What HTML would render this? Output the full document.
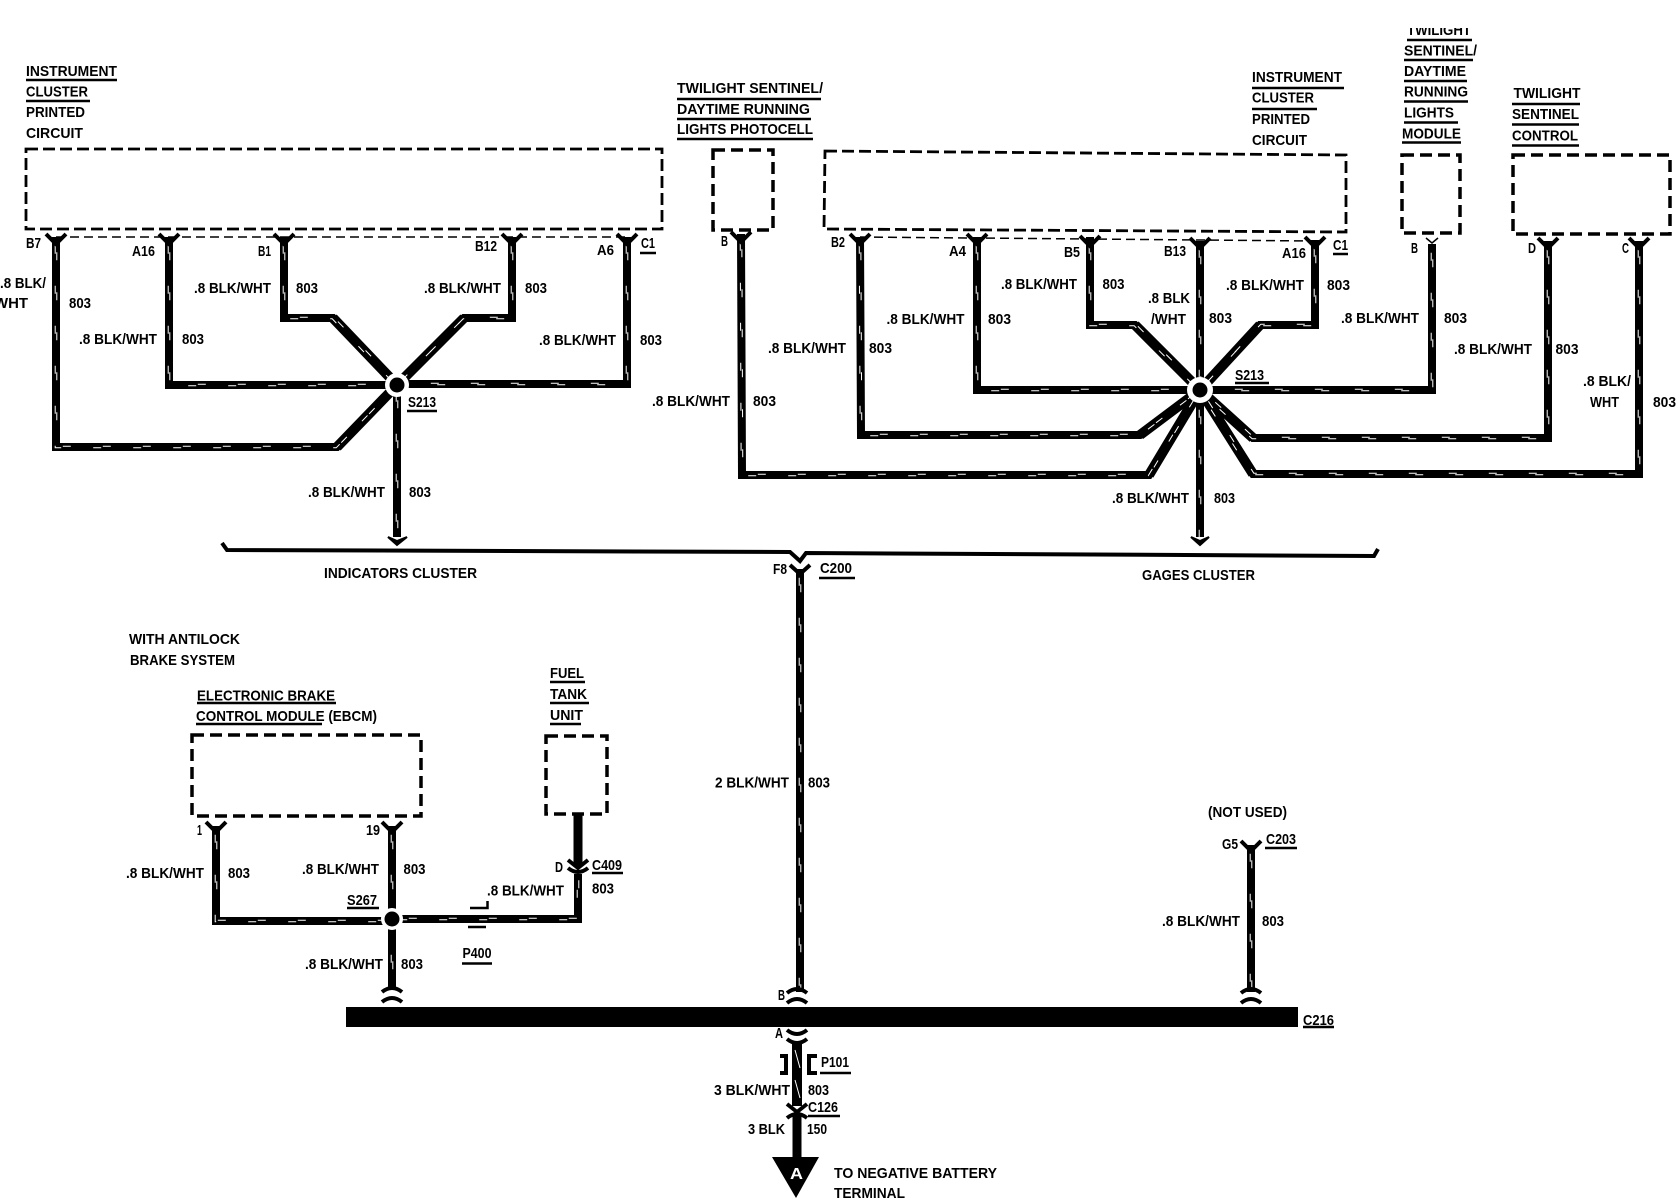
<!DOCTYPE html>
<html><head><meta charset="utf-8"><title>Wiring diagram</title>
<style>
html,body{margin:0;padding:0;background:#fff;width:1676px;height:1200px;overflow:hidden}
svg{display:block}
text{font-family:"Liberation Sans",sans-serif;font-weight:bold;font-size:15px;fill:#000}
</style></head><body>
<svg width="1676" height="1200" viewBox="0 0 1676 1200" xmlns="http://www.w3.org/2000/svg">
<!-- dashed boxes -->
<g fill="none" stroke="#000" stroke-width="2.8" stroke-dasharray="12 5">
<rect x="26" y="149" width="636" height="80"/>
<path d="M825 151L1346 155V232L824 229Z"/>
</g>
<g fill="none" stroke="#000" stroke-width="3.5" stroke-dasharray="12 6">
<rect x="713" y="150" width="60" height="80"/>
<rect x="1402" y="155" width="58" height="78"/>
<rect x="1513" y="155" width="157" height="79"/>
<rect x="192" y="735" width="229" height="81"/>
<rect x="546" y="736" width="61" height="78"/>
</g>
<g fill="none" stroke="#000" stroke-width="1.5" stroke-dasharray="9 5">
<path d="M56 237H627"/><path d="M860 237L1315 241"/>
</g>
<!-- bus -->
<path d="M222 543L227 550L790 552L800 561L806 553L1374 556L1378 549" fill="none" stroke="#000" stroke-width="4"/>
<!-- wires -->
<g fill="none" stroke="#000" stroke-width="8" stroke-linejoin="miter">
<g id="wires">
<path d="M56 237V447H337L397 385"/>
<path d="M169 237V385H397"/>
<path d="M284 237V318H333L397 385"/>
<path d="M512 237V318H464L397 385"/>
<path d="M627 237V384H397"/>
<path d="M397 385V537"/>
<path d="M741 234L742 475H1149L1200 390"/>
<path d="M860 237L861 435H1140L1200 390"/>
<path d="M977 237V390H1200"/>
<path d="M1090 237V325H1135L1200 390"/>
<path d="M1200 241V537"/>
<path d="M1315 240V325H1260L1200 390"/>
<path d="M1432 244V390H1200"/>
<path d="M1548 241V438H1253L1200 390"/>
<path d="M1639 241V474H1253L1200 390"/>
<path d="M800 569V992"/>
<path d="M216 826V921H392"/>
<path d="M392 826V990"/>
<path d="M392 919H578V874"/>
<path d="M1251 845V992"/>
</g>
</g>
<!-- thicker diagonals near the hubs -->
<g fill="none" stroke="#000" stroke-width="10">
<path d="M337 447L397 385M333 318L397 385M464 318L397 385"/>
<path d="M1149 475L1200 390M1140 435L1200 390M1135 325L1200 390M1260 325L1200 390M1253 438L1200 390M1253 474L1200 390"/>
</g>
<use href="#wires" fill="none" stroke="#fff" stroke-width="1" stroke-dasharray="8 32" stroke-dashoffset="-8" transform="translate(-0.8,0.8)"/>
<use href="#wires" fill="none" stroke="#fff" stroke-width="1" stroke-dasharray="8 32" stroke-dashoffset="-16" transform="translate(0.8,-0.8)"/>
<!-- solid / heavy wires -->
<path d="M578 814V866M797 1115V1160" fill="none" stroke="#000" stroke-width="9"/>
<path d="M797 1042V1106" fill="none" stroke="#000" stroke-width="10"/>
<path d="M795 1050L800 1068M795 1080L800 1098" fill="none" stroke="#fff" stroke-width="1"/>
<!-- Hubs -->
<circle cx="397" cy="385" r="12" fill="#fff"/><circle cx="397" cy="385" r="7.5"/>
<circle cx="1200" cy="390" r="13" fill="#fff"/><circle cx="1200" cy="390" r="7.5"/>
<circle cx="392" cy="919" r="11" fill="#fff"/><circle cx="392" cy="919" r="7.5"/>
<!-- Y pins -->
<g fill="none" stroke="#000" stroke-width="4">
<path d="M46 234L56 244L66 234M159 234L169 244L179 234M274 234L284 244L294 234M502 234L512 244L522 234M617 234L627 244L637 234"/>
<path d="M731 232L741 242L751 232M850 234L860 244L870 234M967 234L977 244L987 234M1080 236L1090 246L1100 236M1190 238L1200 248L1210 238M1305 237L1315 247L1325 237M1538 238L1548 248L1558 238M1629 238L1639 248L1649 238"/>
<path d="M790 565L800 574L810 565M206 822L216 832L226 822M382 822L392 832L402 822M1241 841L1251 851L1261 841"/>
<!-- double arcs -->
<path d="M382 992Q392 984 402 992M382 1002Q392 994 402 1002"/>
<path d="M787 993Q797 985 807 993M787 1003Q797 995 807 1003"/>
<path d="M1241 993Q1251 985 1261 993M1241 1003Q1251 995 1261 1003"/>
<path d="M787 1030Q797 1038 807 1030M787 1039Q797 1047 807 1039"/>
<path d="M787 1104L797 1112L807 1104M787 1118Q797 1110 807 1118"/>
<path d="M568 860L578 868L588 860M568 868Q578 876 588 868"/>
<!-- P101 brackets -->
<path d="M780 1056H786V1073H780M817 1056H809V1073H817"/>
</g>
<path d="M1426 238L1432 243L1438 238" fill="none" stroke="#000" stroke-width="1.5"/>
<!-- arrowheads -->
<path d="M388 537L397 545L407 537L397 541Z M1191 537L1200 545L1209 537L1200 541Z" stroke="#000" stroke-width="2"/>
<!-- main bar -->
<path d="M346 1007H1298V1027H346Z"/>
<!-- terminal -->
<path d="M772 1157H819L796 1198Z"/>
<text x="790" y="1179" textLength="13" lengthAdjust="spacingAndGlyphs" style="fill:#fff;font-size:16px">A</text>
<!-- P400 -->
<path d="M470 908H487.500V901M468 927H486" fill="none" stroke="#000" stroke-width="2.5"/>
<!-- underlines -->
<path fill="none" stroke="#000" stroke-width="2.5" d="M26 80H117M26 101H90M640 253H656M407 411H437M677 99H821M677 119H811M677 139H813M1333 254H1348M1252 88H1344M1252 109H1317M1407 40H1472M1404 60H1473M1404 81H1467M1404 101.500H1468M1404 122.500H1458M1402 142.500H1461M1512 104H1580M1512 124.500H1579M1512 145.500H1579M1235 383H1269M819 578H855M197 703H336M196 724H322M550 682H585M550 703H589M550 724H581M347 908H379M592 873H623M462 963.500H492M1265 848H1297M1303 1027H1334M820 1073H851M808 1116H840"/>
<!-- labels -->
<g>
<text x="26" y="76" textLength="91" lengthAdjust="spacingAndGlyphs">INSTRUMENT</text>
<text x="26" y="96.500" textLength="62" lengthAdjust="spacingAndGlyphs">CLUSTER</text>
<text x="26" y="117" textLength="59" lengthAdjust="spacingAndGlyphs">PRINTED</text>
<text x="26" y="138" textLength="57" lengthAdjust="spacingAndGlyphs">CIRCUIT</text>
<text x="26" y="248" textLength="15" lengthAdjust="spacingAndGlyphs">B7</text>
<text x="132" y="256" textLength="23" lengthAdjust="spacingAndGlyphs">A16</text>
<text x="258" y="256" textLength="13" lengthAdjust="spacingAndGlyphs">B1</text>
<text x="475" y="251" textLength="22" lengthAdjust="spacingAndGlyphs">B12</text>
<text x="597" y="255" textLength="17" lengthAdjust="spacingAndGlyphs">A6</text>
<text x="641" y="248" textLength="14" lengthAdjust="spacingAndGlyphs">C1</text>
<text x="0" y="288" textLength="46" lengthAdjust="spacingAndGlyphs">.8 BLK/</text>
<text x="-6" y="308" textLength="34" lengthAdjust="spacingAndGlyphs">WHT</text>
<text x="69" y="308" textLength="22" lengthAdjust="spacingAndGlyphs">803</text>
<text x="79" y="344" textLength="78" lengthAdjust="spacingAndGlyphs">.8 BLK/WHT</text>
<text x="182" y="344" textLength="22" lengthAdjust="spacingAndGlyphs">803</text>
<text x="194" y="293" textLength="77" lengthAdjust="spacingAndGlyphs">.8 BLK/WHT</text>
<text x="296" y="293" textLength="22" lengthAdjust="spacingAndGlyphs">803</text>
<text x="424" y="293" textLength="77" lengthAdjust="spacingAndGlyphs">.8 BLK/WHT</text>
<text x="525" y="293" textLength="22" lengthAdjust="spacingAndGlyphs">803</text>
<text x="539" y="345" textLength="77" lengthAdjust="spacingAndGlyphs">.8 BLK/WHT</text>
<text x="640" y="345" textLength="22" lengthAdjust="spacingAndGlyphs">803</text>
<text x="408" y="407" textLength="28" lengthAdjust="spacingAndGlyphs">S213</text>
<text x="308" y="497" textLength="77" lengthAdjust="spacingAndGlyphs">.8 BLK/WHT</text>
<text x="409" y="497" textLength="22" lengthAdjust="spacingAndGlyphs">803</text>
<text x="324" y="578" textLength="153" lengthAdjust="spacingAndGlyphs">INDICATORS CLUSTER</text>
<text x="677" y="93" textLength="146" lengthAdjust="spacingAndGlyphs">TWILIGHT SENTINEL/</text>
<text x="677" y="114" textLength="133" lengthAdjust="spacingAndGlyphs">DAYTIME RUNNING</text>
<text x="677" y="134" textLength="136" lengthAdjust="spacingAndGlyphs">LIGHTS PHOTOCELL</text>
<text x="721" y="246" textLength="7" lengthAdjust="spacingAndGlyphs">B</text>
<text x="831" y="247" textLength="14" lengthAdjust="spacingAndGlyphs">B2</text>
<text x="949" y="256" textLength="17" lengthAdjust="spacingAndGlyphs">A4</text>
<text x="1064" y="257" textLength="16" lengthAdjust="spacingAndGlyphs">B5</text>
<text x="1164" y="256" textLength="22" lengthAdjust="spacingAndGlyphs">B13</text>
<text x="1282" y="258" textLength="24" lengthAdjust="spacingAndGlyphs">A16</text>
<text x="1333" y="250" textLength="15" lengthAdjust="spacingAndGlyphs">C1</text>
<text x="1411" y="253" textLength="7" lengthAdjust="spacingAndGlyphs">B</text>
<text x="1528" y="253" textLength="8" lengthAdjust="spacingAndGlyphs">D</text>
<text x="1622" y="253" textLength="7" lengthAdjust="spacingAndGlyphs">C</text>
<text x="1252" y="82" textLength="90" lengthAdjust="spacingAndGlyphs">INSTRUMENT</text>
<text x="1252" y="102.500" textLength="62" lengthAdjust="spacingAndGlyphs">CLUSTER</text>
<text x="1252" y="124" textLength="58" lengthAdjust="spacingAndGlyphs">PRINTED</text>
<text x="1252" y="145" textLength="55" lengthAdjust="spacingAndGlyphs">CIRCUIT</text>
<text x="1407" y="35" textLength="64" lengthAdjust="spacingAndGlyphs">TWILIGHT</text>
<text x="1404" y="55.500" textLength="73" lengthAdjust="spacingAndGlyphs">SENTINEL/</text>
<text x="1404" y="76" textLength="62" lengthAdjust="spacingAndGlyphs">DAYTIME</text>
<text x="1404" y="96.500" textLength="64" lengthAdjust="spacingAndGlyphs">RUNNING</text>
<text x="1404" y="117.500" textLength="50" lengthAdjust="spacingAndGlyphs">LIGHTS</text>
<text x="1402" y="138.500" textLength="59" lengthAdjust="spacingAndGlyphs">MODULE</text>
<text x="1513.500" y="98" textLength="67" lengthAdjust="spacingAndGlyphs">TWILIGHT</text>
<text x="1512" y="119" textLength="67" lengthAdjust="spacingAndGlyphs">SENTINEL</text>
<text x="1512" y="140.500" textLength="66" lengthAdjust="spacingAndGlyphs">CONTROL</text>
<text x="1001" y="289" textLength="76" lengthAdjust="spacingAndGlyphs">.8 BLK/WHT</text>
<text x="1102.500" y="289" textLength="22" lengthAdjust="spacingAndGlyphs">803</text>
<text x="1148" y="303" textLength="42" lengthAdjust="spacingAndGlyphs">.8 BLK</text>
<text x="1151" y="324" textLength="35" lengthAdjust="spacingAndGlyphs">/WHT</text>
<text x="1209" y="323" textLength="23" lengthAdjust="spacingAndGlyphs">803</text>
<text x="1226" y="290" textLength="78" lengthAdjust="spacingAndGlyphs">.8 BLK/WHT</text>
<text x="1327" y="290" textLength="23" lengthAdjust="spacingAndGlyphs">803</text>
<text x="886.500" y="324" textLength="78" lengthAdjust="spacingAndGlyphs">.8 BLK/WHT</text>
<text x="988" y="324" textLength="23" lengthAdjust="spacingAndGlyphs">803</text>
<text x="768" y="353" textLength="78" lengthAdjust="spacingAndGlyphs">.8 BLK/WHT</text>
<text x="869" y="353" textLength="23" lengthAdjust="spacingAndGlyphs">803</text>
<text x="652" y="406" textLength="78" lengthAdjust="spacingAndGlyphs">.8 BLK/WHT</text>
<text x="753" y="406" textLength="23" lengthAdjust="spacingAndGlyphs">803</text>
<text x="1341" y="323" textLength="78" lengthAdjust="spacingAndGlyphs">.8 BLK/WHT</text>
<text x="1444" y="323" textLength="23" lengthAdjust="spacingAndGlyphs">803</text>
<text x="1454" y="354" textLength="78" lengthAdjust="spacingAndGlyphs">.8 BLK/WHT</text>
<text x="1555.500" y="354" textLength="23" lengthAdjust="spacingAndGlyphs">803</text>
<text x="1583" y="386" textLength="48" lengthAdjust="spacingAndGlyphs">.8 BLK/</text>
<text x="1590" y="407" textLength="29" lengthAdjust="spacingAndGlyphs">WHT</text>
<text x="1653" y="407" textLength="23" lengthAdjust="spacingAndGlyphs">803</text>
<text x="1235" y="380" textLength="29" lengthAdjust="spacingAndGlyphs">S213</text>
<text x="1112" y="503" textLength="77" lengthAdjust="spacingAndGlyphs">.8 BLK/WHT</text>
<text x="1214" y="503" textLength="21" lengthAdjust="spacingAndGlyphs">803</text>
<text x="1142" y="580" textLength="113" lengthAdjust="spacingAndGlyphs">GAGES CLUSTER</text>
<text x="773" y="574" textLength="14" lengthAdjust="spacingAndGlyphs">F8</text>
<text x="820" y="573" textLength="32" lengthAdjust="spacingAndGlyphs">C200</text>
<text x="129" y="644" textLength="111" lengthAdjust="spacingAndGlyphs">WITH ANTILOCK</text>
<text x="130" y="665" textLength="105" lengthAdjust="spacingAndGlyphs">BRAKE SYSTEM</text>
<text x="197" y="700.500" textLength="138" lengthAdjust="spacingAndGlyphs">ELECTRONIC BRAKE</text>
<text x="196" y="721" textLength="181" lengthAdjust="spacingAndGlyphs">CONTROL MODULE (EBCM)</text>
<text x="550" y="678" textLength="34" lengthAdjust="spacingAndGlyphs">FUEL</text>
<text x="550" y="699" textLength="37" lengthAdjust="spacingAndGlyphs">TANK</text>
<text x="550" y="720" textLength="33" lengthAdjust="spacingAndGlyphs">UNIT</text>
<text x="197" y="835" textLength="5" lengthAdjust="spacingAndGlyphs">1</text>
<text x="366" y="835" textLength="14" lengthAdjust="spacingAndGlyphs">19</text>
<text x="126" y="878" textLength="78" lengthAdjust="spacingAndGlyphs">.8 BLK/WHT</text>
<text x="228" y="878" textLength="22" lengthAdjust="spacingAndGlyphs">803</text>
<text x="302" y="874" textLength="77" lengthAdjust="spacingAndGlyphs">.8 BLK/WHT</text>
<text x="403.500" y="874" textLength="22" lengthAdjust="spacingAndGlyphs">803</text>
<text x="347" y="905" textLength="30" lengthAdjust="spacingAndGlyphs">S267</text>
<text x="555" y="872" textLength="8" lengthAdjust="spacingAndGlyphs">D</text>
<text x="592" y="870" textLength="30" lengthAdjust="spacingAndGlyphs">C409</text>
<text x="592" y="893.500" textLength="22" lengthAdjust="spacingAndGlyphs">803</text>
<text x="487" y="895.500" textLength="77" lengthAdjust="spacingAndGlyphs">.8 BLK/WHT</text>
<text x="462.500" y="958" textLength="29" lengthAdjust="spacingAndGlyphs">P400</text>
<text x="305" y="969" textLength="78" lengthAdjust="spacingAndGlyphs">.8 BLK/WHT</text>
<text x="401" y="969" textLength="22" lengthAdjust="spacingAndGlyphs">803</text>
<text x="715" y="787.500" textLength="74" lengthAdjust="spacingAndGlyphs">2 BLK/WHT</text>
<text x="808" y="787.500" textLength="22" lengthAdjust="spacingAndGlyphs">803</text>
<text x="1208" y="817" textLength="79" lengthAdjust="spacingAndGlyphs">(NOT USED)</text>
<text x="1222" y="849" textLength="16" lengthAdjust="spacingAndGlyphs">G5</text>
<text x="1266" y="844" textLength="30" lengthAdjust="spacingAndGlyphs">C203</text>
<text x="1162" y="926" textLength="78" lengthAdjust="spacingAndGlyphs">.8 BLK/WHT</text>
<text x="1262" y="926" textLength="22" lengthAdjust="spacingAndGlyphs">803</text>
<text x="1303" y="1025" textLength="31" lengthAdjust="spacingAndGlyphs">C216</text>
<text x="778" y="1000" textLength="7" lengthAdjust="spacingAndGlyphs">B</text>
<text x="775" y="1038" textLength="8" lengthAdjust="spacingAndGlyphs">A</text>
<text x="821" y="1067" textLength="28" lengthAdjust="spacingAndGlyphs">P101</text>
<text x="714" y="1095" textLength="76" lengthAdjust="spacingAndGlyphs">3 BLK/WHT</text>
<text x="808" y="1095" textLength="21" lengthAdjust="spacingAndGlyphs">803</text>
<text x="808" y="1112" textLength="30" lengthAdjust="spacingAndGlyphs">C126</text>
<text x="748" y="1134" textLength="37" lengthAdjust="spacingAndGlyphs">3 BLK</text>
<text x="807" y="1134" textLength="20" lengthAdjust="spacingAndGlyphs">150</text>
<text x="834" y="1178" textLength="163" lengthAdjust="spacingAndGlyphs">TO NEGATIVE BATTERY</text>
<text x="834" y="1198" textLength="71" lengthAdjust="spacingAndGlyphs">TERMINAL</text>
</g>
<!-- top crop of clipped label -->
<rect x="1395" y="0" width="90" height="28" fill="#fff"/>
</svg>
</body></html>
